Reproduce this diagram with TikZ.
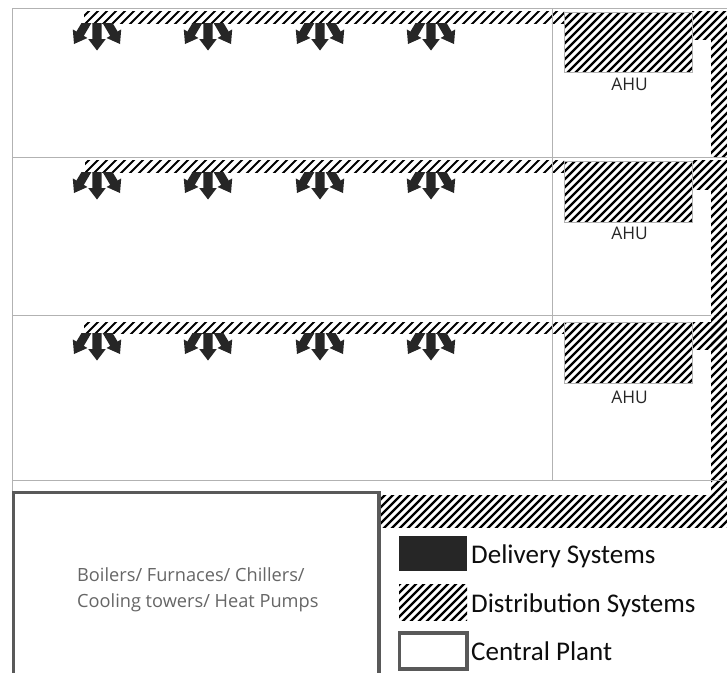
\documentclass[tikz,border=0pt]{standalone}
\usepackage{fontspec}
\setmainfont{Open Sans}
\newfontfamily\legendfont{Carlito}
\tikzset{
  gridline/.style={draw=black!30,line width=1pt},
  plantbox/.style={draw=black!65,line width=3.5pt,fill=white},
  deliveryfill/.style={fill=black!85,draw=none},
  hatchline/.style={black,line width=2.2pt},
  ducthatchline/.style={black,line width=1.9pt},
  ahubox/.style={draw=black!30,line width=0.8pt},
  ahulabel/.style={font=\fontsize{17.4}{20}\selectfont,text=black!85,inner sep=0pt},
  legendlabel/.style={font=\legendfont\fontsize{27}{30}\selectfont,text=black!95,anchor=base west,inner sep=0pt},
  plantlabel/.style={font=\fontsize{18.2}{26}\selectfont,text=black!60,align=left,anchor=west,inner sep=0pt},
}
\newcommand{\hatchrect}[5]{%
  \begin{scope}
    \clip (#1,#2) rectangle (#3,#4);
    \foreach \c in {0,#5,...,1480}{\draw[hatchline] (\c,0) -- (\c-700,700);}
  \end{scope}}
\newcommand{\ducthatch}[4]{%
  \begin{scope}
    \clip (#1,#2) rectangle (#3,#4);
    \foreach \c in {0,9,...,900}{\draw[ducthatchline] (\c,#2-10) -- (\c-40,#2+30);}
  \end{scope}}
\newcommand{\arrowfan}[2]{%
  \begin{scope}[shift={(#1,#2)}]
    \fill[black!85] (-4.6,0) -- (4.6,0) -- (4.6,16) -- (8.8,16) -- (0,27.5) -- (-8.8,16) -- (-4.6,16) -- cycle;
    \fill[black!85] (-15.5,0) -- (-5.6,0) -- (-13.2,12.9) -- (-9.6,15) -- (-23,21) -- (-24.2,6.4) -- (-20.6,8.5) -- cycle;
    \fill[black!85] (15.5,0) -- (5.6,0) -- (13.2,12.9) -- (9.6,15) -- (23,21) -- (24.2,6.4) -- (20.6,8.5) -- cycle;
  \end{scope}}
\begin{document}
\begin{tikzpicture}[x=1pt,y=-1pt]
\useasboundingbox (0,0) rectangle (727,672);
\fill[white] (0,0) rectangle (727,672);
% ducts row 1
\ducthatch{84}{11}{564}{23}
\hatchrect{692}{11}{727}{39}{8}
\hatchrect{711}{39}{727}{157}{8}
% ducts row 2
\ducthatch{85}{160}{564}{172}
\hatchrect{692}{160}{727}{189}{8}
\hatchrect{711}{189}{727}{315}{8}
% ducts row 3
\ducthatch{84}{322}{564}{333}
\hatchrect{692}{322}{727}{349}{8}
\hatchrect{711}{315}{727}{495}{8}
% bottom duct
\hatchrect{381}{495}{727}{527}{8}
% AHUs
\hatchrect{564}{12}{692}{72}{8}
\hatchrect{564}{161}{692}{222}{8}
\hatchrect{564}{322}{692}{383}{8}
\draw[ahubox] (564,12) rectangle (692,72);
\draw[ahubox] (564,161) rectangle (692,222);
\draw[ahubox] (564,322) rectangle (692,383);
% grid
\draw[gridline] (727,8) -- (12,8) -- (12,492);
\draw[gridline] (12,157) -- (727,157);
\draw[gridline] (12,315) -- (711,315);
\draw[gridline] (12,480) -- (727,480);
\draw[gridline] (552,8) -- (552,480);
% arrows
\foreach \x in {97,208,320,431}{
  \arrowfan{\x}{23}
  \arrowfan{\x}{172}
  \arrowfan{\x}{333}
}
\node[ahulabel] (ahuA) at (629.5,84) {AHU};
\node[ahulabel] (ahuB) at (629.5,233) {AHU};
\node[ahulabel] (ahuC) at (629.5,397) {AHU};
% central plant
\draw[plantbox] (13.5,492.5) rectangle (379,680);
\node[plantlabel] (plant) at (77,589.5) {Boilers/ Furnaces/ Chillers/\\Cooling towers/ Heat Pumps};
% legend
\fill[deliveryfill] (399,536) rectangle (467,571);
\hatchrect{399}{584}{467}{620}{8}
\draw[plantbox] (399.5,633) rectangle (467,669);
\node[legendlabel] (l1) at (471,563.5) {Delivery Systems};
\node[legendlabel] (l2) at (471,612) {Distribution Systems};
\node[legendlabel] (l3) at (471,660.5) {Central Plant};
\end{tikzpicture}
\end{document}
